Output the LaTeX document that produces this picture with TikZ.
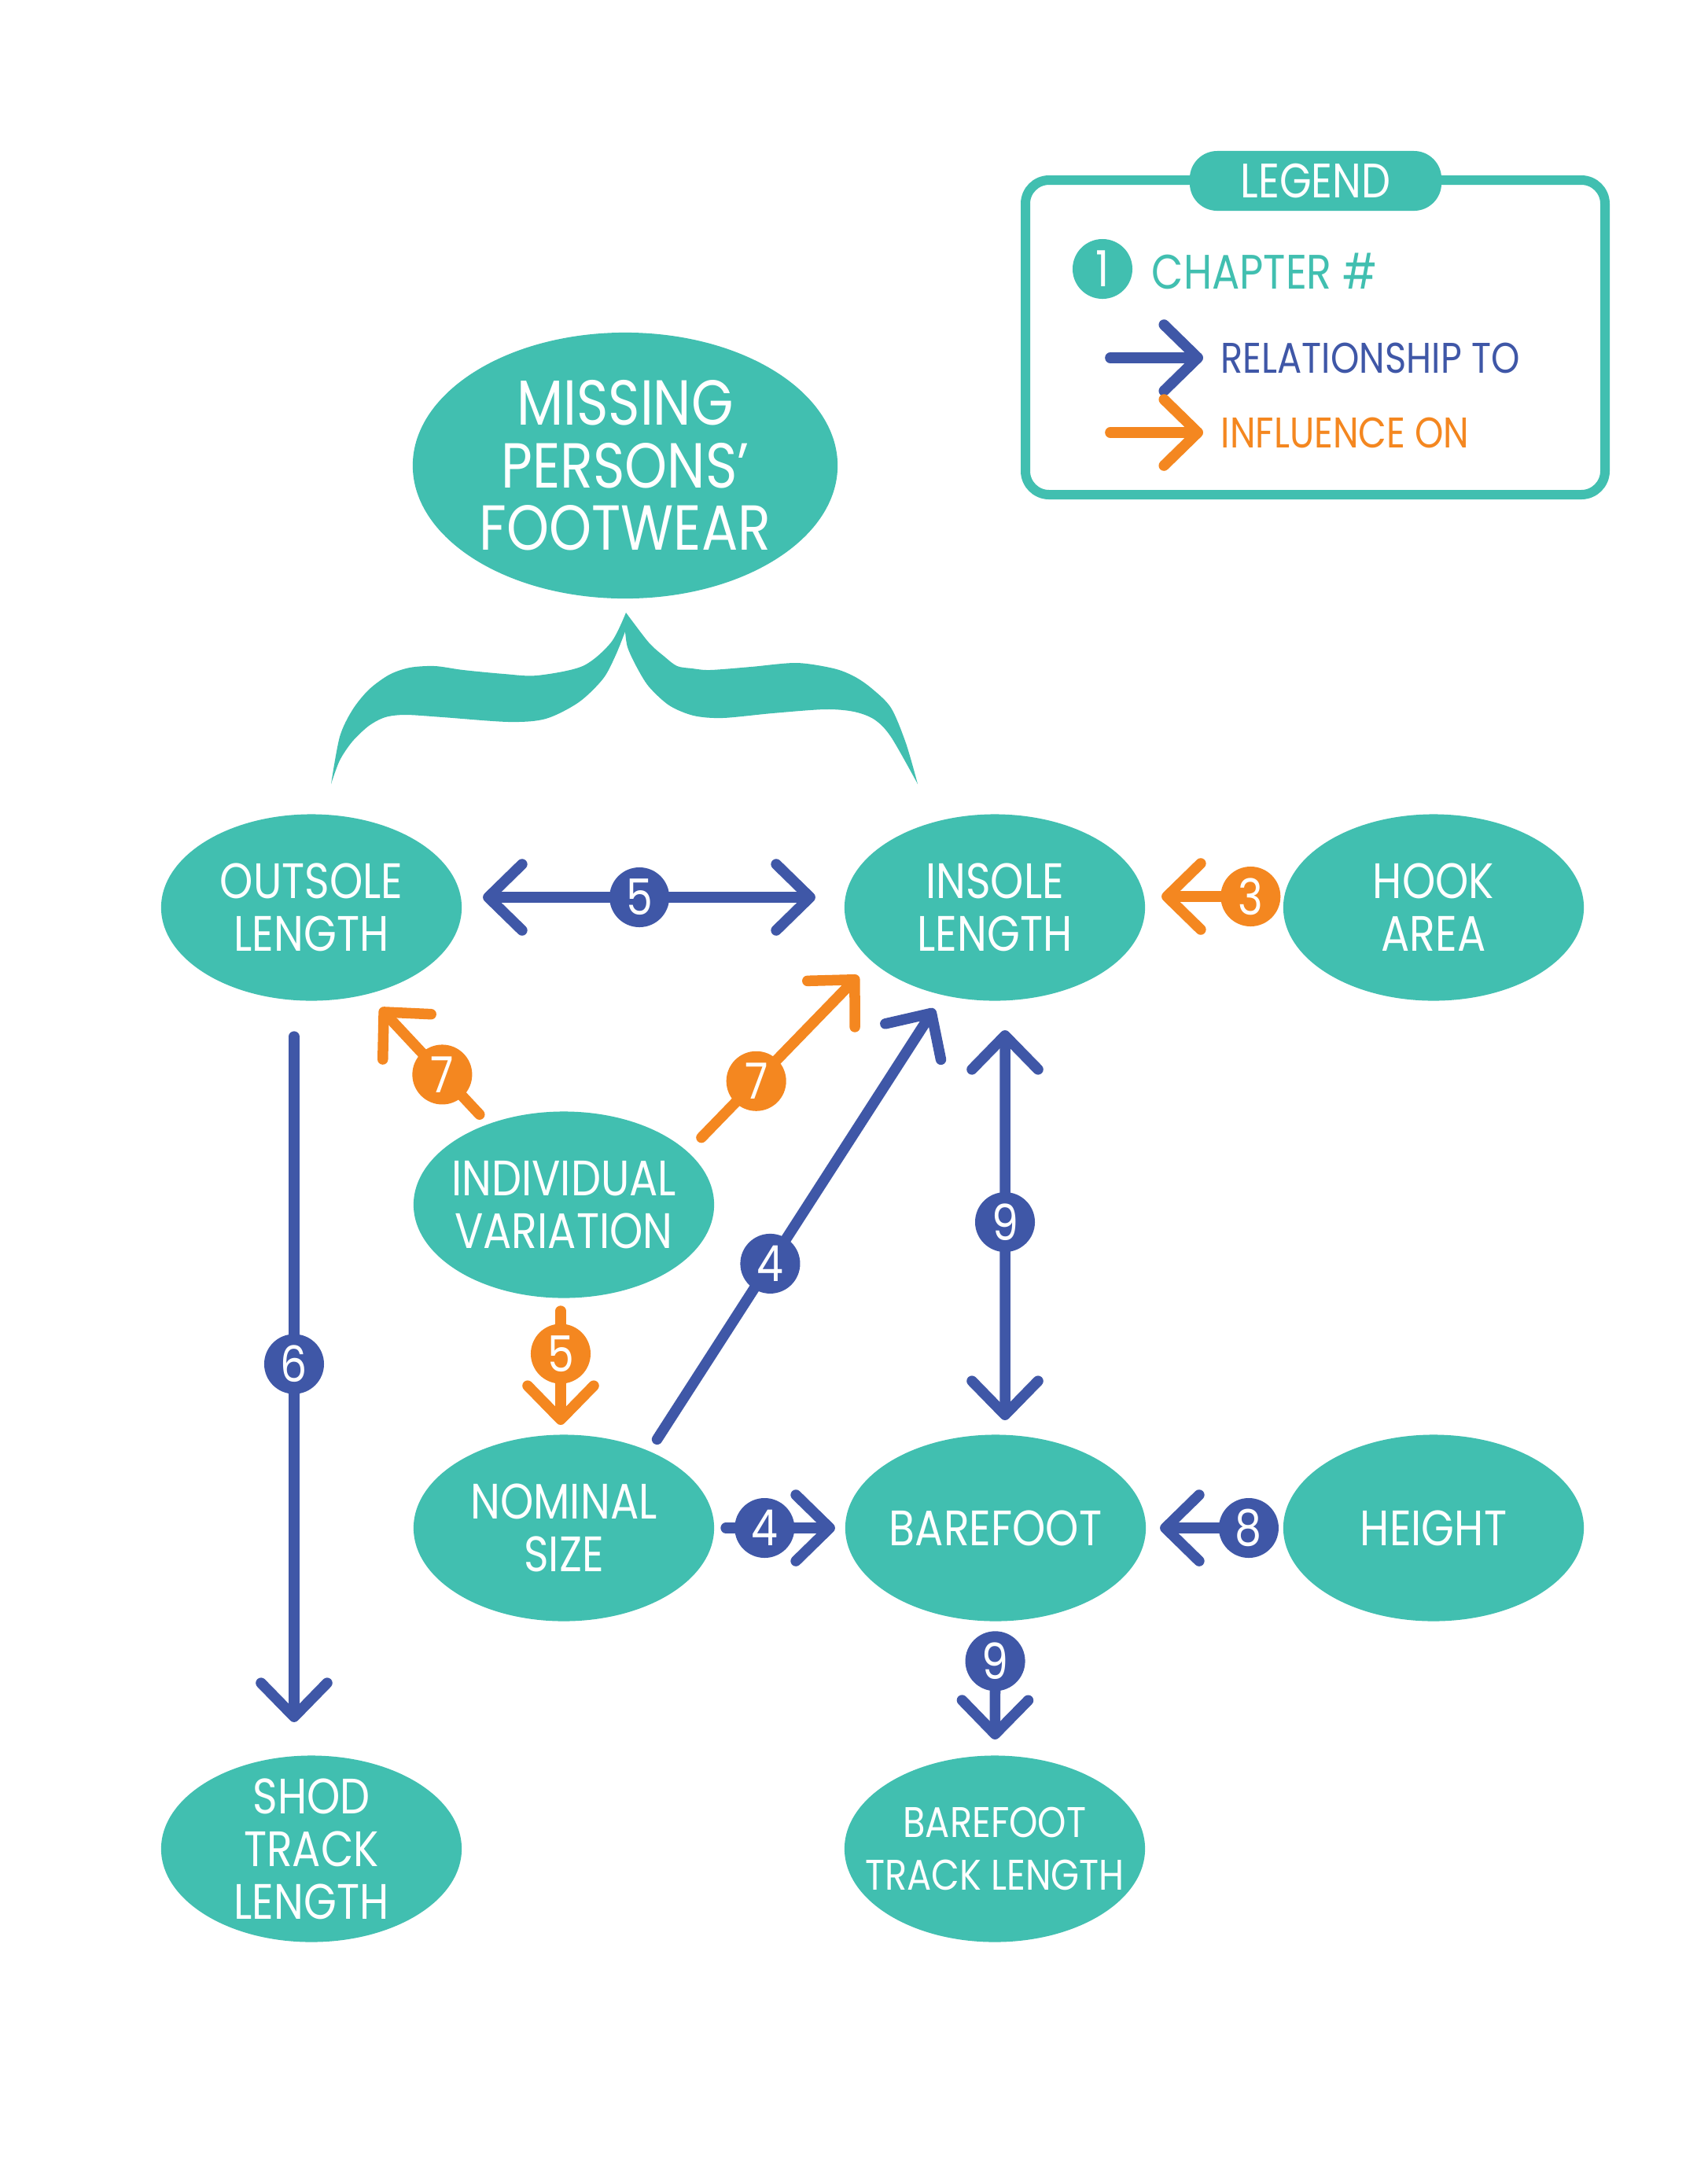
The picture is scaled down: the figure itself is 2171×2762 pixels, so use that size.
\documentclass[tikz,border=0pt]{standalone}
\usepackage{fontspec}
\setmainfont{Poppins}[FakeStretch=0.85]
\usetikzlibrary{shapes.geometric,arrows.meta,calc}
\definecolor{tealc}{HTML}{41BFB0}
\definecolor{bluec}{HTML}{3F57A7}
\definecolor{orangec}{HTML}{F48720}
\newcommand\fsz[2]{\fontsize{#1}{#2}\selectfont}
\begin{document}
\begin{tikzpicture}[x=0.01cm,y=-0.01cm,
  bubble/.style={ellipse, fill=tealc, minimum width=3.82cm, minimum height=2.37cm, inner sep=0pt},
  btext/.style={text=white, align=center, inner sep=0pt, font=\fsz{18pt}{19pt}},
  rel/.style={draw=bluec, line width=1.35mm, line cap=round},
  inf/.style={draw=orangec, line width=1.35mm, line cap=round},
  tipx/.tip={Straight Barb[length=4.3mm,width=8.4mm,round]},
  bnum/.style={circle, fill=bluec, text=white, minimum size=7.6mm, inner sep=0pt, font=\fsz{18pt}{18pt}},
  onum/.style={bnum, fill=orangec},
  legtxt/.style={anchor=west, inner sep=0pt},
]
\fill[white] (0,0) rectangle (2171,2762);
\useasboundingbox (0,0) rectangle (2171,2762);

% legend
\draw[line width=1.2mm, draw=tealc, fill=white, rounded corners=3mm] (1304,229) rectangle (2041,629);
\node[fill=tealc, rounded corners=3.5mm, minimum width=3.2cm, minimum height=0.76cm, inner sep=0pt, text=white, font=\fsz{17.5pt}{18pt}] (legend) at (1673,230) {LEGEND};
\node[bnum, fill=tealc] (one) at (1402,342) {1};
\node[legtxt, text=tealc, font=\fsz{17.5pt}{18pt}] (chap) at (1464,345) {CHAPTER \#};
\node[legtxt, text=bluec, font=\fsz{15.5pt}{16pt}] (reltxt) at (1552,455) {RELATIONSHIP TO};
\node[legtxt, text=orangec, font=\fsz{15.5pt}{16pt}] (inftxt) at (1552,550) {INFLUENCE ON};
\draw[rel, -tipx] ([xshift=-14mm]reltxt.west) -- ([xshift=-2.2mm]reltxt.west);
\draw[inf, -tipx] ([xshift=-14mm]inftxt.west) -- ([xshift=-2.2mm]inftxt.west);

% top ellipse and brace
\node[bubble, minimum width=5.4cm, minimum height=3.38cm,
  label={[btext, font=\fsz{23pt}{22.6pt}]center:{MISSING\\PERSONS’\\FOOTWEAR}}] (missing) at (795,592) {};
\fill[tealc]
  plot[smooth,tension=0.5] coordinates {(796,779) (777,817) (741,847) (683,859) (641,857) (589,852) (553,847) (521,849) (495,858) (469,877) (448,903) (432,937) (421,997)}
  -- plot[smooth,tension=0.5] coordinates {(421,997) (432,967) (448,943) (469,923) (490,912) (516,909) (563,912) (647,918) (694,914) (736,893) (767,863) (783,833) (795,803)}
  -- plot[smooth,tension=0.5] coordinates {(795,803) (798,823) (809,847) (825,873) (851,897) (882,910) (919,913) (982,907) (1049,902) (1086,905) (1112,915) (1133,937) (1167,997)}
  -- plot[smooth,tension=0.5] coordinates {(1167,997) (1152,945) (1133,900) (1108,875) (1086,860) (1060,850) (1013,843) (955,848) (903,852) (880,850) (861,847) (845,835) (825,817) (796,779)}
  -- cycle;

% nodes
\node[bubble, label={[btext]center:{OUTSOLE\\LENGTH}}] (outsole) at (396,1154) {};
\node[bubble, label={[btext]center:{INSOLE\\LENGTH}}] (insole) at (1265,1154) {};
\node[bubble, label={[btext]center:{HOOK\\AREA}}] (hook) at (1823,1154) {};
\node[bubble, label={[btext]center:{INDIVIDUAL\\VARIATION}}] (indiv) at (717,1532) {};
\node[bubble, label={[btext]center:{NOMINAL\\SIZE}}] (nominal) at (717,1943) {};
\node[bubble, label={[btext]center:{BAREFOOT}}] (barefoot) at (1266,1943) {};
\node[bubble, label={[btext]center:{HEIGHT}}] (height) at (1823,1943) {};
\node[bubble, label={[btext]center:{SHOD\\TRACK\\LENGTH}}] (shod) at (396,2351) {};
\node[bubble, label={[btext, font=\fsz{15.5pt}{19pt}]center:{BAREFOOT\\TRACK LENGTH}}] (bftrack) at (1265,2351) {};

% connectors
\draw[rel, tipx-tipx, shorten <=2.18cm, shorten >=2.28cm] ([yshift=1.3mm]outsole.center) -- node[bnum, pos=0.48]{5} ([yshift=1.3mm]insole.center);
\draw[inf, -tipx, shorten <=2.32cm, shorten >=2.12cm] ([yshift=1.4mm]hook.center) -- node[onum, pos=0.417]{3} ([yshift=1.4mm]insole.center);
\draw[inf, -tipx, shorten <=1.57cm, shorten >=1.75cm] (indiv.center) -- node[onum, pos=0.438]{7} ([xshift=-3.2mm]outsole.center);
\draw[inf, -tipx, shorten <=1.19cm, shorten >=1.21cm] ([xshift=9.2mm]indiv.center) -- node[onum, pos=0.416]{7} ([xshift=-8.9mm]insole.center);
\draw[rel, -tipx, shorten <=1.34cm, shorten >=1.53cm] ([xshift=4.6mm]nominal.center) -- node[bnum, pos=0.426]{4} ([xshift=0.6mm]insole.center);
\draw[rel, tipx-tipx, shorten <=1.56cm, shorten >=1.37cm] ([xshift=1.3mm]insole.center) -- node[bnum, pos=0.507]{9} ([xshift=1.2mm]barefoot.center);
\draw[rel, -tipx, shorten <=1.64cm, shorten >=1.61cm] ([xshift=-2.2mm]outsole.center) -- node[bnum, pos=0.485]{6} ([xshift=-2.2mm]shod.center);
\draw[inf, -tipx, shorten <=1.35cm, shorten >=1.31cm] ([xshift=-0.4mm]indiv.center) -- node[onum, pos=0.461]{5} ([xshift=-0.4mm]nominal.center);
\draw[rel, -tipx, shorten <=2.06cm, shorten >=2.04cm] (nominal.center) -- node[bnum, pos=0.465]{4} (barefoot.center);
\draw[rel, -tipx, shorten <=2.35cm, shorten >=2.09cm] (height.center) -- node[bnum, pos=0.422]{8} (barefoot.center);
\draw[rel, -tipx, shorten <=1.69cm, shorten >=1.39cm] (barefoot.center) -- node[bnum, pos=0.415]{9} (bftrack.center);
\end{tikzpicture}
\end{document}
